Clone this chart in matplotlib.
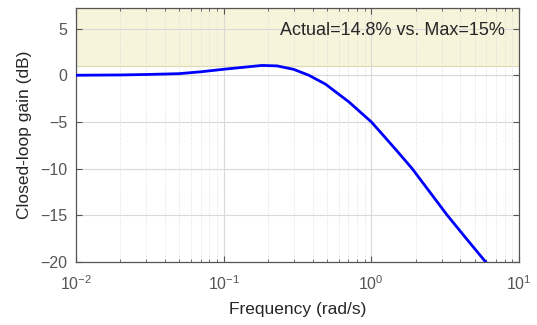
import matplotlib
matplotlib.use("Agg")
import matplotlib.pyplot as plt
import numpy as np
from matplotlib.ticker import LogLocator, NullFormatter

plt.rcParams['font.family'] = ['Liberation Sans', 'DejaVu Sans']
plt.rcParams['mathtext.fontset'] = 'custom'
plt.rcParams['mathtext.rm'] = 'Liberation Sans'
plt.rcParams['mathtext.it'] = 'Liberation Sans:italic'

# closed-loop gain
freq = [0.01, 0.02, 0.03, 0.05, 0.07, 0.1, 0.148, 0.182, 0.23, 0.298, 0.377,
        0.489, 0.704, 1.0, 1.124, 1.5, 1.89, 2.5, 3.27, 4.4, 5.95]
gain_db = [0.0, 0.03, 0.08, 0.17, 0.37, 0.64, 0.91, 1.05, 1.0, 0.63, 0.0,
           -0.95, -2.85, -5.0, -5.9, -8.15, -10.0, -12.55, -15.0, -17.5, -20.0]
max_gain_db = 1.0
y_lim = [-20, 7.2]
x_lim = [0.01, 10]
note = "Actual=14.8% vs. Max=15%"

fig = plt.figure(figsize=(5.37, 3.25), dpi=100)
ax = fig.add_axes([0.1415, 0.1938, 0.825, 0.7816])

ax.axhspan(max_gain_db, y_lim[1], facecolor='#f6f4da', edgecolor='#dedab0',
           linewidth=0.8, zorder=0)
ax.plot(freq, gain_db, color='#0000ff', linewidth=2, zorder=3)

ax.set_xscale('log')
ax.set_xlim(x_lim)
ax.set_ylim(y_lim)
ax.set_yticks([-20, -15, -10, -5, 0, 5])
ax.xaxis.set_major_locator(LogLocator(base=10, numticks=10))
ax.xaxis.set_minor_locator(LogLocator(base=10, subs=np.arange(2, 10), numticks=20))
ax.xaxis.set_minor_formatter(NullFormatter())

ax.grid(True, which='major', color='#d9d9d9', linewidth=0.8, linestyle='-')
ax.grid(True, which='minor', axis='x', color='#dcdcdc', linewidth=0.7, linestyle=':')
ax.set_axisbelow(True)

ax.tick_params(which='both', direction='in', top=True, right=True,
               colors='#555555', labelcolor='#555555', labelsize=11.5)
ax.tick_params(which='major', length=4, width=0.8)
ax.tick_params(axis='x', which='major', pad=9)
ax.tick_params(axis='y', which='major', pad=6)
ax.tick_params(which='minor', length=2, width=0.6)
for s in ax.spines.values():
    s.set_color('#555555')
    s.set_linewidth(0.9)

ax.set_xlabel("Frequency (rad/s)", fontsize=12.5, color='#262626', labelpad=6)
ax.set_ylabel("Closed-loop gain (dB)", fontsize=12.5, color='#262626', labelpad=6)
ax.text(0.968, 0.913, note, transform=ax.transAxes, ha='right', va='center',
        fontsize=13, color='#262626')

fig.savefig('out.png', dpi=100)
